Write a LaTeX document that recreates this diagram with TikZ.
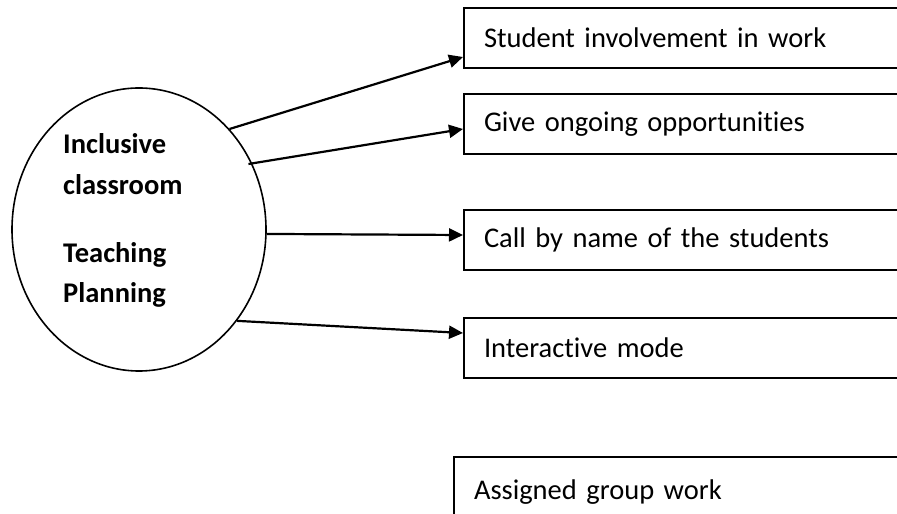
\documentclass[tikz,border=0pt]{standalone}
\usepackage{fontspec}
\setmainfont{Carlito}[Ligatures=NoCommon]
\usetikzlibrary{arrows.meta,shapes.geometric}
\begin{document}
\begin{tikzpicture}[x=1pt,y=1pt,
  font=\fontsize{28.5}{34}\selectfont,
  boxnode/.style={draw, line width=2pt, rectangle, anchor=north west, minimum width=470pt, minimum height=60pt, text width=430pt, inner xsep=20pt, inner ysep=0pt, align=left},
  circnode/.style={draw, line width=1.6pt, ellipse, minimum width=254pt, minimum height=283pt, inner sep=0pt},
  lbl/.style={font=\fontsize{28.5}{34}\selectfont\bfseries, anchor=base west, inner sep=0pt},
  arr/.style={line width=2.2pt, -{Triangle[length=14pt, width=13pt]}}
]
\useasboundingbox (0,0) rectangle (897,514);
\clip (0,0) rectangle (897,514);
\fill[white] (0,0) rectangle (897,514);
\node[circnode] (e) at (139,284.5) {};
\node[lbl] (t1) at (63,360) {Inclusive};
\node[lbl] (t2) at (63,319) {classroom};
\node[lbl] (t3) at (63,251) {Teaching};
\node[lbl] (t4) at (63,211) {Planning};
\node[boxnode] (b1) at (463,507) {Student involvement in work};
\node[boxnode] (b2) at (463,421) {Give ongoing opportunities};
\node[boxnode] (b3) at (463,305) {Call by name of the students};
\node[boxnode] (b4) at (463,197) {Interactive mode};
\node[boxnode, inner xsep=20pt, minimum height=70pt] (b5) at (453,58) {Assigned group work};
\draw[arr] (e.48.6) -- ([yshift=12pt]b1.south west);
\draw[arr] ([xshift=-4pt]e.30.6) -- ([yshift=26pt]b2.south west);
\draw[arr] (e.-2) -- ([yshift=36pt]b3.south west);
\draw[arr] (e.-43.6) -- ([yshift=-16pt]b4.north west);
\end{tikzpicture}
\end{document}
